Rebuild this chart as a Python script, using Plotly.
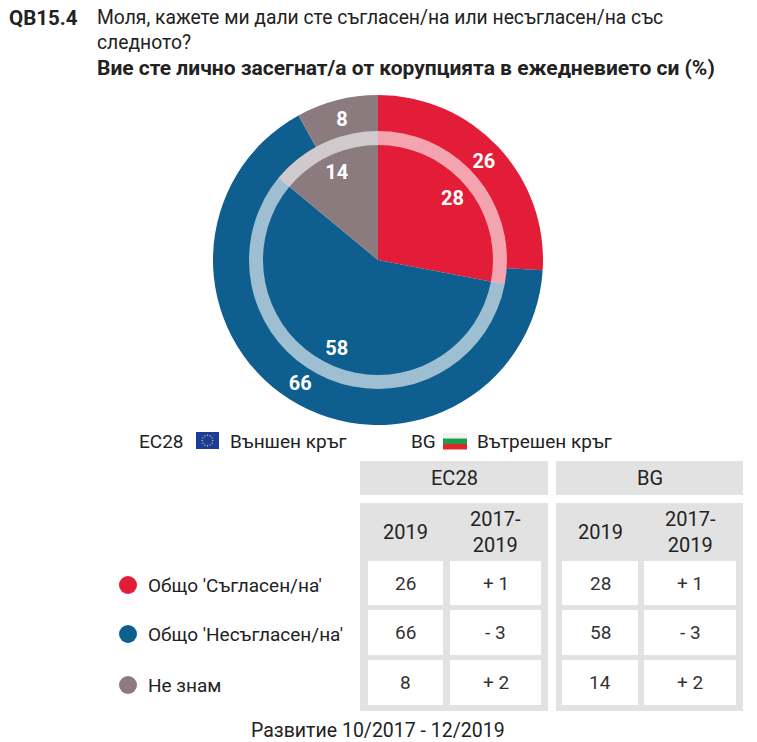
import math
import plotly.graph_objects as go

W, H = 757, 742

# ---------------- data ----------------
categories = ["Общо 'Съгласен/на'", "Общо 'Несъгласен/на'", "Не знам"]
eu28_2019 = [26, 66, 8]
eu28_change = ["+ 1", "- 3", "+ 2"]
bg_2019 = [28, 58, 14]
bg_change = ["+ 1", "- 3", "+ 2"]
colors = ["#E31D38", "#0E5E8F", "#8B7B7F"]
group_labels = ["ЕС28", "BG"]
col_labels = ["2019", "2017-<br>2019"]

FONT = "Roboto"
TXT = "#222222"
GRAY = "#E2E2E2"


def X(px):
    return px / W


def Y(py):
    return 1 - py / H


fig = go.Figure()

cx, cy = 378, 260
R_OUT, R_IN, R_RING = 165, 129, 115


def dom(r):
    return dict(x=[X(cx - r), X(cx + r)], y=[Y(cy + r), Y(cy - r)])


# outer ring: EU28
fig.add_trace(go.Pie(
    values=eu28_2019, labels=categories, sort=False, direction="clockwise", rotation=0,
    hole=0.76, domain=dom(R_OUT),
    marker=dict(colors=colors, line=dict(width=0)),
    textposition="inside", texttemplate="%{value}", insidetextorientation="horizontal",
    textfont=dict(family=FONT, size=20, color="white", weight="bold"),
    showlegend=False, hoverinfo="label+value"))

# inner pie: BG
fig.add_trace(go.Pie(
    values=bg_2019, labels=categories, sort=False, direction="clockwise", rotation=0,
    domain=dom(R_IN), marker=dict(colors=colors, line=dict(width=0)),
    textinfo="none", showlegend=False, hoverinfo="label+value"))

# translucent separating ring
fig.add_trace(go.Pie(
    values=[1], labels=["ring"], sort=False, hole=R_RING / R_IN, domain=dom(R_IN),
    marker=dict(colors=["rgba(255,255,255,0.6)"], line=dict(width=0)),
    textinfo="none", showlegend=False, hoverinfo="skip"))

# labels of inner pie
fig.add_trace(go.Pie(
    values=bg_2019, labels=categories, sort=False, direction="clockwise", rotation=0,
    hole=0.5, domain=dom(R_IN),
    marker=dict(colors=["rgba(0,0,0,0)"] * 3, line=dict(width=0)),
    textposition="inside", texttemplate="%{value}", insidetextorientation="horizontal",
    textfont=dict(family=FONT, size=20, color="white", weight="bold"),
    showlegend=False, hoverinfo="skip"))

shapes = []
ann = []


def rect(x0, y0, x1, y1, color):
    shapes.append(dict(type="rect", xref="paper", yref="paper",
                       x0=X(x0), x1=X(x1), y0=Y(y1), y1=Y(y0),
                       fillcolor=color, line=dict(width=0), layer="below"))


def text(x, y, s, size=17, anchor="center", color=TXT, bold=False):
    ann.append(dict(xref="paper", yref="paper", x=X(x), y=Y(y), text=s, showarrow=False,
                    xanchor=anchor, yanchor="middle",
                    font=dict(family=FONT, size=size, color=color,
                              weight="bold" if bold else "normal")))


# ---------- title ----------
text(7, 18, "QB15.4", size=20.5, anchor="left", bold=True)
text(95, 18, "Моля, кажете ми дали сте съгласен/на или несъгласен/на със", size=19.3, anchor="left")
text(95, 43, "следното?", size=19.3, anchor="left")
text(95, 68, "Вие сте лично засегнат/а от корупцията в ежедневието си (%)", size=21, anchor="left", bold=True)

# ---------- legend row ----------
text(137, 441, "ЕС28", size=19, anchor="left")
rect(196, 432, 219, 449, "#1B3C9B")
for k in range(12):
    a = 2 * math.pi * k / 12
    sx, sy = 207.5 + 5.3 * math.cos(a), 440.5 + 5.3 * math.sin(a)
    shapes.append(dict(type="circle", xref="paper", yref="paper",
                       x0=X(sx - 0.7), x1=X(sx + 0.7), y0=Y(sy + 0.7), y1=Y(sy - 0.7),
                       fillcolor="#F5D442", line=dict(width=0)))
text(228, 441, "Външен кръг", size=19, anchor="left")
text(409, 441, "BG", size=19, anchor="left")
rect(443, 433, 467, 438.5, "#F2F2F2")
rect(443, 438.5, 467, 444, "#1E9C48")
rect(443, 444, 467, 449.5, "#E0262B")
text(475, 441, "Вътрешен кръг", size=19, anchor="left")

# ---------- table ----------
groups = [(360, 548, eu28_2019, eu28_change), (556, 743, bg_2019, bg_change)]
cols_x = [[(368, 443), (450, 541)], [(562, 638), (644, 736)]]
rows_y = [(561, 605), (610, 655), (660, 705)]

for gi, (gx0, gx1, vals, chg) in enumerate(groups):
    rect(gx0, 461, gx1, 495, GRAY)
    text((gx0 + gx1) / 2, 478, group_labels[gi], size=20)
    rect(gx0, 503, gx1, 711, GRAY)
    for ci, (cx0, cx1) in enumerate(cols_x[gi]):
        text((cx0 + cx1) / 2, 532, col_labels[ci], size=20)
        for ri, (ry0, ry1) in enumerate(rows_y):
            rect(cx0, ry0, cx1, ry1, "white")
            s = str(vals[ri]) if ci == 0 else chg[ri]
            text((cx0 + cx1) / 2, (ry0 + ry1) / 2, s, size=19, color="#333333")

label_y = [585, 634, 685]
for ri, cat in enumerate(categories):
    yy = label_y[ri]
    shapes.append(dict(type="circle", xref="paper", yref="paper",
                       x0=X(119), x1=X(137), y0=Y(yy + 9), y1=Y(yy - 9),
                       fillcolor=colors[ri], line=dict(width=0)))
    text(146, yy, cat, size=19, anchor="left")

text(378, 730, "Развитие 10/2017 - 12/2019", size=19.5)

fig.update_layout(
    width=W, height=H, margin=dict(l=0, r=0, t=0, b=0),
    paper_bgcolor="white", plot_bgcolor="white",
    shapes=shapes, annotations=ann, showlegend=False,
)

fig.write_html("out.html", config={"displayModeBar": False},
               post_script="document.body.style.margin='0px';")
